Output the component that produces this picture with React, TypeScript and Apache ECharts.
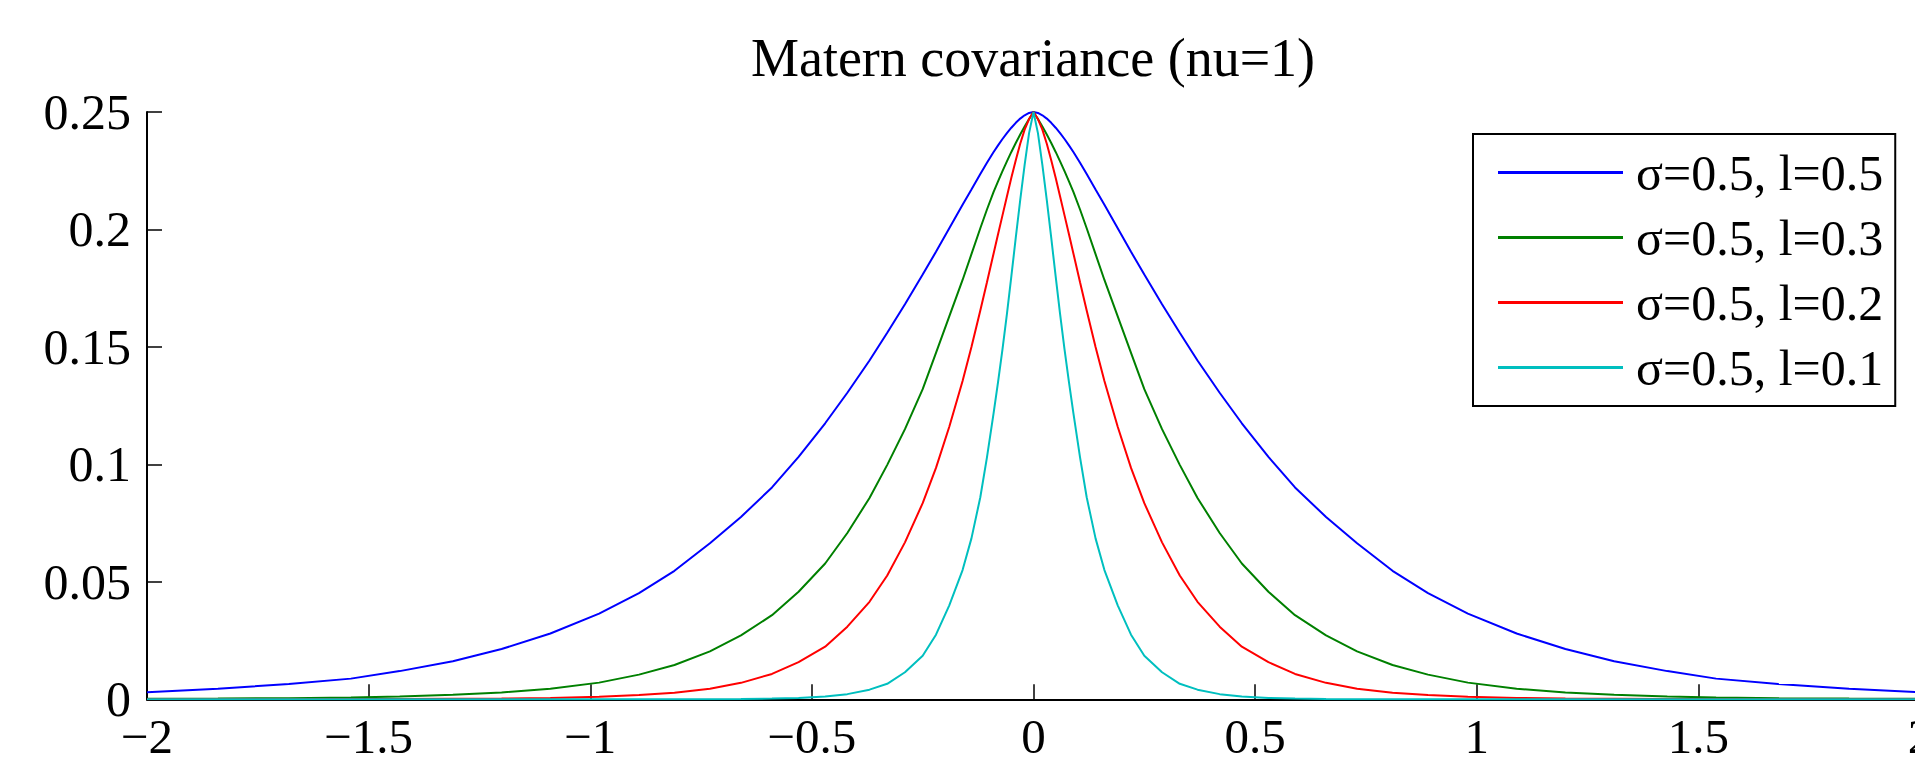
import React, { useEffect, useRef } from "react";
import * as echarts from "echarts";

const chartTitle = "Matern covariance (nu=1)";

const xValues = [
  -2, -1.84, -1.68, -1.54, -1.43, -1.31, -1.2, -1.09, -0.98, -0.89, -0.81, -0.73, -0.66, -0.59, -0.53, -0.47, -0.42, -0.37,
  -0.33, -0.29, -0.25, -0.22, -0.19, -0.16, -0.14, -0.12, -0.105, -0.09, -0.08, -0.07, -0.06, -0.05, -0.04, -0.03, -0.02, -0.01,
  0,
  0.01, 0.02, 0.03, 0.04, 0.05, 0.06, 0.07, 0.08, 0.09, 0.105, 0.12, 0.14, 0.16, 0.19, 0.22, 0.25, 0.29, 0.33,
  0.37, 0.42, 0.47, 0.53, 0.59, 0.66, 0.73, 0.81, 0.89, 0.98, 1.09, 1.2, 1.31, 1.43, 1.54, 1.68, 1.84, 2,
];

const blueValues = [
  0.0030, 0.0045, 0.0065, 0.0088, 0.0120, 0.0162, 0.0214, 0.0280, 0.0365, 0.0452, 0.0547, 0.0664, 0.0776, 0.0902, 0.1032, 0.1175, 0.1305, 0.1442,
  0.1560, 0.1682, 0.1808, 0.1905, 0.2005, 0.2105, 0.2170, 0.2236, 0.2284, 0.2330, 0.2358, 0.2385, 0.2410, 0.2433, 0.2454, 0.2472, 0.2486, 0.2496,
  0.2500,
  0.2496, 0.2486, 0.2472, 0.2454, 0.2433, 0.2410, 0.2385, 0.2358, 0.2330, 0.2284, 0.2236, 0.2170, 0.2105, 0.2005, 0.1905, 0.1808, 0.1682, 0.1560,
  0.1442, 0.1305, 0.1175, 0.1032, 0.0902, 0.0776, 0.0664, 0.0547, 0.0452, 0.0365, 0.0280, 0.0214, 0.0162, 0.0120, 0.0088, 0.0065, 0.0045, 0.0030,
];

const greenValues = [
  0.0002, 0.0003, 0.0005, 0.0008, 0.0012, 0.0019, 0.0029, 0.0045, 0.0071, 0.0105, 0.0146, 0.0204, 0.0272, 0.0358, 0.0458, 0.0578, 0.0708, 0.0857,
  0.0998, 0.1150, 0.1320, 0.1475, 0.1630, 0.1785, 0.1895, 0.2005, 0.2085, 0.2160, 0.2205, 0.2248, 0.2290, 0.2330, 0.2368, 0.2404, 0.2438, 0.2470,
  0.2500,
  0.2470, 0.2438, 0.2404, 0.2368, 0.2330, 0.2290, 0.2248, 0.2205, 0.2160, 0.2085, 0.2005, 0.1895, 0.1785, 0.1630, 0.1475, 0.1320, 0.1150, 0.0998,
  0.0857, 0.0708, 0.0578, 0.0458, 0.0358, 0.0272, 0.0204, 0.0146, 0.0105, 0.0071, 0.0045, 0.0029, 0.0019, 0.0012, 0.0008, 0.0005, 0.0003, 0.0002,
];

const redValues = [
  0, 0, 0, 0.0001, 0.0001, 0.0002, 0.0003, 0.0006, 0.0011, 0.0018, 0.0028, 0.0045, 0.0070, 0.0108, 0.0158, 0.0224, 0.0309, 0.0415,
  0.0527, 0.0668, 0.0835, 0.0985, 0.1160, 0.1355, 0.1500, 0.1655, 0.1775, 0.1898, 0.1980, 0.2060, 0.2140, 0.2220, 0.2295, 0.2365, 0.2425, 0.2470,
  0.2500,
  0.2470, 0.2425, 0.2365, 0.2295, 0.2220, 0.2140, 0.2060, 0.1980, 0.1898, 0.1775, 0.1655, 0.1500, 0.1355, 0.1160, 0.0985, 0.0835, 0.0668, 0.0527,
  0.0415, 0.0309, 0.0224, 0.0158, 0.0108, 0.0070, 0.0045, 0.0028, 0.0018, 0.0011, 0.0006, 0.0003, 0.0002, 0.0001, 0.0001, 0, 0, 0,
];

const cyanValues = [
  0, 0, 0, 0, 0, 0, 0, 0, 0, 0, 0, 0, 0.0001, 0.0003, 0.0006, 0.0012, 0.0022, 0.0041,
  0.0066, 0.0115, 0.0185, 0.0275, 0.0400, 0.0550, 0.0685, 0.0860, 0.1030, 0.1218, 0.1350, 0.1490, 0.1640, 0.1800, 0.1965, 0.2125, 0.2275, 0.2410,
  0.2500,
  0.2410, 0.2275, 0.2125, 0.1965, 0.1800, 0.1640, 0.1490, 0.1350, 0.1218, 0.1030, 0.0860, 0.0685, 0.0550, 0.0400, 0.0275, 0.0185, 0.0115, 0.0066,
  0.0041, 0.0022, 0.0012, 0.0006, 0.0003, 0.0001, 0, 0, 0, 0, 0, 0, 0, 0, 0, 0, 0, 0,
];

const seriesNames = ["σ=0.5, l=0.5", "σ=0.5, l=0.3", "σ=0.5, l=0.2", "σ=0.5, l=0.1"];
const seriesColors = ["#0000ff", "#008000", "#ff0000", "#00bfbf"];
const xTickLabels = ["−2", "−1.5", "−1", "−0.5", "0", "0.5", "1", "1.5", "2"];
const yTickLabels = ["0", "0.05", "0.1", "0.15", "0.2", "0.25"];

export default function App() {
  const ref = useRef<HTMLDivElement>(null);

  useEffect(() => {
    if (!ref.current) return;
    const chart = echarts.init(ref.current, null, { renderer: "svg" });
    const font = "'Liberation Serif', 'Times New Roman', serif";
    const allValues = [blueValues, greenValues, redValues, cyanValues];

    chart.setOption({
      animation: false,
      backgroundColor: "#ffffff",
      title: {
        text: chartTitle,
        left: 1033,
        top: 28,
        textAlign: "center",
        padding: 0,
        textStyle: { fontFamily: font, fontSize: 54, fontWeight: "normal", color: "#000", lineHeight: 60 },
      },
      legend: {
        orient: "vertical",
        left: 1473,
        top: 134,
        padding: [11, 12, 11, 25],
        itemWidth: 125,
        itemHeight: 3,
        itemGap: 10,
        icon: "rect",
        selectedMode: false,
        backgroundColor: "#ffffff",
        borderColor: "#000000",
        borderWidth: 2,
        borderRadius: 0,
        textStyle: { fontFamily: font, fontSize: 50, color: "#000", lineHeight: 55, padding: [0, 0, 0, 8] },
        data: seriesNames,
      },
      grid: {
        left: 147,
        top: 112,
        width: 1773,
        height: 587.3,
        containLabel: false,
        outerBoundsMode: "none",
      },
      xAxis: {
        type: "value",
        min: -2,
        max: 2,
        interval: 0.5,
        axisLine: { onZero: false, lineStyle: { color: "#000", width: 2 } },
        axisTick: { inside: true, length: 15, lineStyle: { color: "#000", width: 1.5 } },
        axisLabel: {
          fontFamily: font,
          fontSize: 49,
          color: "#000",
          margin: 13,
          lineHeight: 48,
          showMinLabel: true,
          showMaxLabel: true,
          hideOverlap: false,
          formatter: (v: number) => xTickLabels[Math.round((v + 2) / 0.5)] ?? "",
        },
        splitLine: { show: false },
      },
      yAxis: {
        type: "value",
        min: 0,
        max: 0.25,
        interval: 0.05,
        axisLine: { onZero: false, lineStyle: { color: "#000", width: 2 } },
        axisTick: { inside: true, length: 15, lineStyle: { color: "#000", width: 1.5 } },
        axisLabel: {
          fontFamily: font,
          fontSize: 50,
          color: "#000",
          margin: 16,
          showMinLabel: true,
          showMaxLabel: true,
          formatter: (v: number) => yTickLabels[Math.round(v / 0.05)] ?? "",
        },
        splitLine: { show: false },
      },
      series: allValues.map((vals, i) => ({
        type: "line",
        name: seriesNames[i],
        data: xValues.map((x, j) => [x, vals[j]]),
        symbol: "none",
        showSymbol: false,
        lineStyle: { color: seriesColors[i], width: 2 },
        itemStyle: { color: seriesColors[i] },
        emphasis: { disabled: true },
      })),
    });

    return () => chart.dispose();
  }, []);

  return (
    <div
      ref={ref}
      style={{ position: "absolute", left: 0, top: 0, width: 1915, height: 764, background: "#fff" }}
    />
  );
}
